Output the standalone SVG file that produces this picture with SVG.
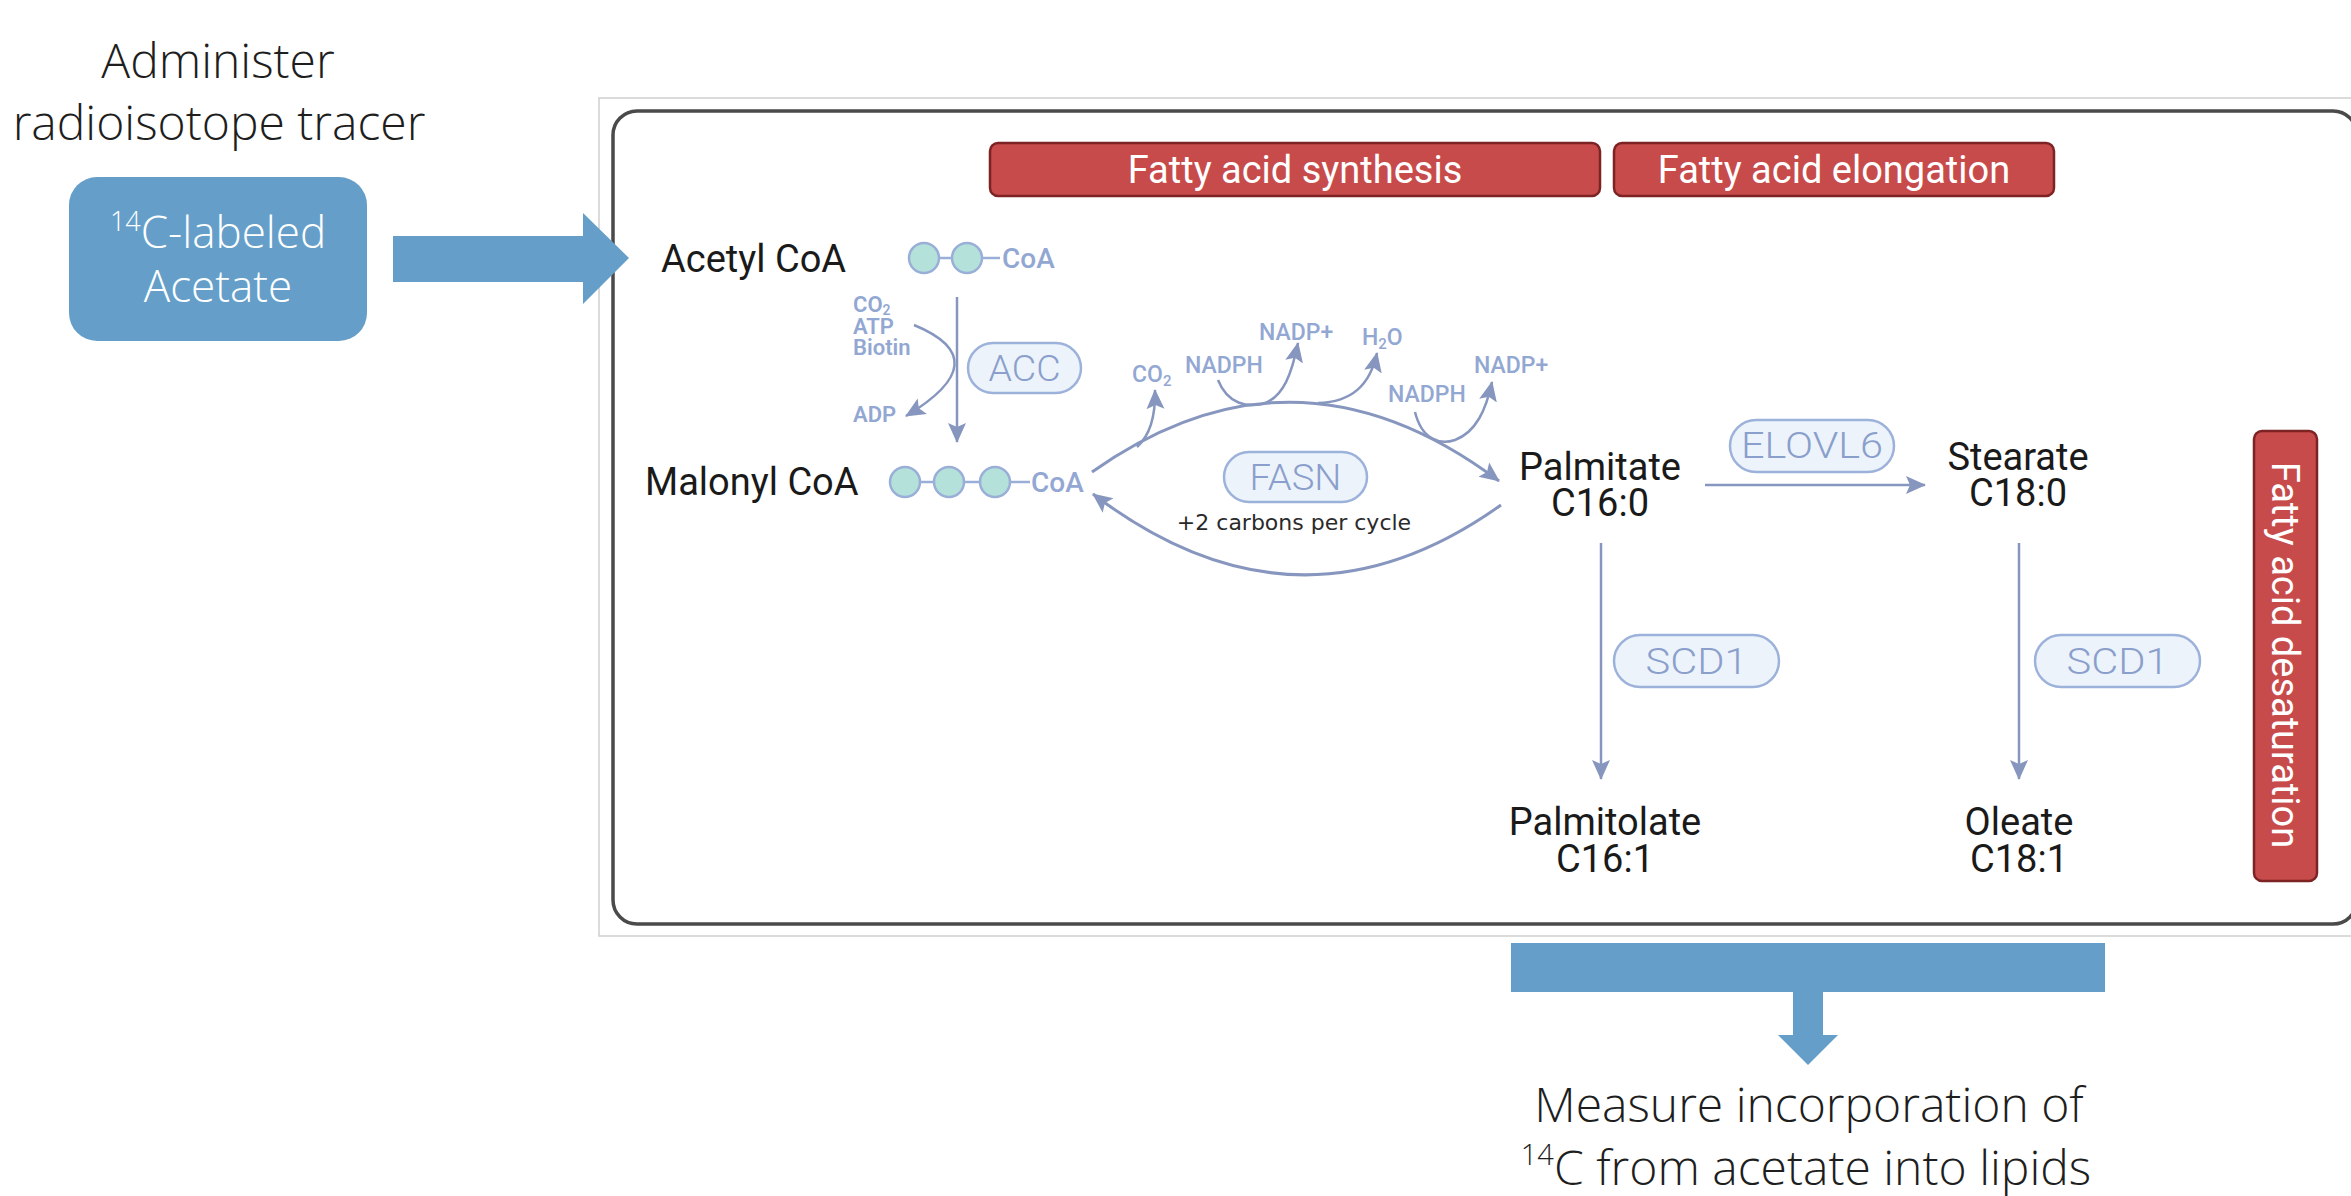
<svg xmlns="http://www.w3.org/2000/svg" width="2351" height="1196" viewBox="0 0 2351 1196">
<defs>
<style>
.title{font-family:"Open Sans","Liberation Sans",sans-serif;font-weight:300;fill:#1e1e1e;font-size:48px}
.wt{font-family:"Open Sans","Liberation Sans",sans-serif;font-weight:300;fill:#ffffff;font-size:44px}
.blk{font-family:Roboto,"Liberation Sans",sans-serif;fill:#1a1a1a;font-size:38px}
.red{fill:#c84b4b;stroke:#7d2323;stroke-width:2.5}
.redt{font-family:Roboto,"Liberation Sans",sans-serif;fill:#ffffff;font-size:38px}
.pill{fill:#edf3fb;stroke:#9db2da;stroke-width:2.5}
.pillt{font-family:Roboto,"Liberation Sans",sans-serif;font-weight:300;fill:#8a9fcb;font-size:37px}
.sm{font-family:Roboto,"Liberation Sans",sans-serif;font-weight:500;fill:#93a7d3;font-size:23px}
.smb{font-family:Roboto,"Liberation Sans",sans-serif;font-weight:600;fill:#93a7d3;font-size:22px}
.coa{font-family:Roboto,"Liberation Sans",sans-serif;font-weight:500;fill:#93a7d3;font-size:28px}
.ball{fill:#b4e1d9;stroke:#9aafd8;stroke-width:2.5}
.bond{stroke:#9aafd8;stroke-width:2.5}
.ln{fill:none;stroke:#8796be;stroke-width:3}
.lnt{fill:none;stroke:#8796be;stroke-width:2.5}
.blue{fill:#659fc9}
</style>
<marker id="ah" markerUnits="userSpaceOnUse" markerWidth="22" markerHeight="20" refX="19" refY="10" orient="auto">
<path d="M0,1 L20,10 L0,19 L4,10 z" fill="#8796be"/>
</marker>
</defs>
<rect width="2351" height="1196" fill="#ffffff"/>

<g id="left-title">
<text class="title" x="218" y="78" text-anchor="middle">Administer</text>
<text class="title" x="219" y="140" text-anchor="middle">radioisotope tracer</text>
</g>

<g id="acetate-node">
<rect class="blue" x="69" y="177" width="298" height="164" rx="28"/>
<text class="wt" x="218" y="248" text-anchor="middle"><tspan font-size="27" dy="-17">14</tspan><tspan dy="17">C-labeled</tspan></text>
<text class="wt" x="218" y="302" text-anchor="middle">Acetate</text>
</g>

<g id="frame">
<rect x="599" y="98" width="1770" height="838" fill="#ffffff" stroke="#cfcfcf" stroke-width="1.5"/>
<rect x="613" y="111" width="1744" height="813" rx="24" fill="#ffffff" stroke="#4a4a4a" stroke-width="3.5"/>
</g>

<g id="stage-labels">
<g id="synthesis-label">
<rect class="red" x="990" y="143" width="610" height="53" rx="8"/>
<text class="redt" x="1295" y="183" text-anchor="middle">Fatty acid synthesis</text>
</g>
<g id="elongation-label">
<rect class="red" x="1614" y="143" width="440" height="53" rx="8"/>
<text class="redt" x="1834" y="183" text-anchor="middle">Fatty acid elongation</text>
</g>
<g id="desaturation-label">
<rect class="red" x="2254" y="431" width="63" height="450" rx="8"/>
<text class="redt" transform="translate(2285,655) rotate(90)" x="0" y="13" text-anchor="middle">Fatty acid desaturation</text>
</g>
</g>

<g id="connectors">
<polygon class="blue" points="393,236 583,236 583,213 629,258 583,304 583,282 393,282"/>
<rect class="blue" x="1511" y="943" width="594" height="49"/>
<polygon class="blue" points="1793,991 1823,991 1823,1035 1838,1035 1808,1065 1778,1035 1793,1035"/>
<line class="lnt" x1="957" y1="297" x2="957" y2="442" marker-end="url(#ah)"/>
<path class="lnt" d="M914,325 Q999,360 906,416" marker-end="url(#ah)"/>
<path class="ln" d="M1092,472 Q1295,328 1499,481" marker-end="url(#ah)"/>
<path class="ln" d="M1501,505 Q1298,650 1093,494" marker-end="url(#ah)"/>
<path class="lnt" d="M1137,447 Q1156,430 1155,390" marker-end="url(#ah)"/>
<path class="lnt" d="M1218,380 C1228,405 1248,407 1262,404 C1284,398 1292,372 1298,343" marker-end="url(#ah)"/>
<path class="lnt" d="M1318,403 C1352,402 1370,385 1377,353" marker-end="url(#ah)"/>
<path class="lnt" d="M1415,412 C1422,440 1440,445 1455,440 C1476,432 1486,410 1492,382" marker-end="url(#ah)"/>
<line class="lnt" x1="1705" y1="485" x2="1925" y2="485" marker-end="url(#ah)"/>
<line class="lnt" x1="1601" y1="543" x2="1601" y2="779" marker-end="url(#ah)"/>
<line class="lnt" x1="2019" y1="543" x2="2019" y2="779" marker-end="url(#ah)"/>
</g>

<g id="acetyl-coa">
<text class="blk" x="661" y="272">Acetyl CoA</text>
<line class="bond" x1="939" y1="258" x2="952" y2="258"/>
<line class="bond" x1="982" y1="258" x2="1000" y2="258"/>
<circle class="ball" cx="924" cy="258" r="15"/>
<circle class="ball" cx="967" cy="258" r="15"/>
<text class="coa" x="1002" y="268">CoA</text>
</g>

<g id="acc">
<text class="smb" x="853" y="312">CO<tspan font-size="14" dy="3">2</tspan></text>
<text class="smb" x="853" y="334">ATP</text>
<text class="smb" x="853" y="355">Biotin</text>
<text class="smb" x="853" y="422">ADP</text>
<rect class="pill" x="968" y="343" width="113" height="50" rx="25"/>
<text class="pillt" x="1024.5" y="381" text-anchor="middle" textLength="72" lengthAdjust="spacingAndGlyphs">ACC</text>
</g>

<g id="malonyl-coa">
<text class="blk" x="645" y="495">Malonyl CoA</text>
<line class="bond" x1="920" y1="482" x2="934" y2="482"/>
<line class="bond" x1="964" y1="482" x2="980" y2="482"/>
<line class="bond" x1="1010" y1="482" x2="1030" y2="482"/>
<circle class="ball" cx="905" cy="482" r="15"/>
<circle class="ball" cx="949" cy="482" r="15"/>
<circle class="ball" cx="995" cy="482" r="15"/>
<text class="coa" x="1031" y="492">CoA</text>
</g>

<g id="fasn">
<rect class="pill" x="1224" y="452" width="143" height="50" rx="25"/>
<text class="pillt" x="1295.5" y="490" text-anchor="middle" textLength="92" lengthAdjust="spacingAndGlyphs">FASN</text>
<text x="1294" y="530" text-anchor="middle" font-family="DejaVu Sans, sans-serif" font-size="22" fill="#2a2a2a">+2 carbons per cycle</text>
<text class="sm" x="1132" y="382">CO<tspan font-size="15" dy="4">2</tspan></text>
<text class="sm" x="1185" y="373">NADPH</text>
<text class="sm" x="1259" y="340">NADP+</text>
<text class="sm" x="1362" y="345">H<tspan font-size="15" dy="4">2</tspan><tspan dy="-4">O</tspan></text>
<text class="sm" x="1388" y="402">NADPH</text>
<text class="sm" x="1474" y="373">NADP+</text>
</g>

<g id="palmitate">
<text class="blk" x="1600" y="480" text-anchor="middle">Palmitate</text>
<text class="blk" x="1600" y="516" text-anchor="middle">C16:0</text>
</g>

<g id="elovl6">
<rect class="pill" x="1730" y="420" width="164" height="52" rx="26"/>
<text class="pillt" x="1812" y="458" text-anchor="middle" textLength="142" lengthAdjust="spacingAndGlyphs">ELOVL6</text>
</g>

<g id="stearate">
<text class="blk" x="2018" y="470" text-anchor="middle">Stearate</text>
<text class="blk" x="2018" y="506" text-anchor="middle">C18:0</text>
</g>

<g id="scd1-a">
<rect class="pill" x="1614" y="635" width="165" height="52" rx="26"/>
<text class="pillt" x="1696.5" y="674" text-anchor="middle" textLength="102" lengthAdjust="spacingAndGlyphs">SCD1</text>
</g>

<g id="scd1-b">
<rect class="pill" x="2035" y="635" width="165" height="52" rx="26"/>
<text class="pillt" x="2117.5" y="674" text-anchor="middle" textLength="102" lengthAdjust="spacingAndGlyphs">SCD1</text>
</g>

<g id="palmitolate">
<text class="blk" x="1605" y="835" text-anchor="middle">Palmitolate</text>
<text class="blk" x="1605" y="872" text-anchor="middle">C16:1</text>
</g>

<g id="oleate">
<text class="blk" x="2019" y="835" text-anchor="middle">Oleate</text>
<text class="blk" x="2019" y="872" text-anchor="middle">C18:1</text>
</g>

<g id="measure-label">
<text class="title" x="1809" y="1122" text-anchor="middle">Measure incorporation of</text>
<text class="title" x="1806" y="1185" text-anchor="middle"><tspan font-size="29" dy="-20">14</tspan><tspan dy="20">C from acetate into lipids</tspan></text>
</g>
</svg>
